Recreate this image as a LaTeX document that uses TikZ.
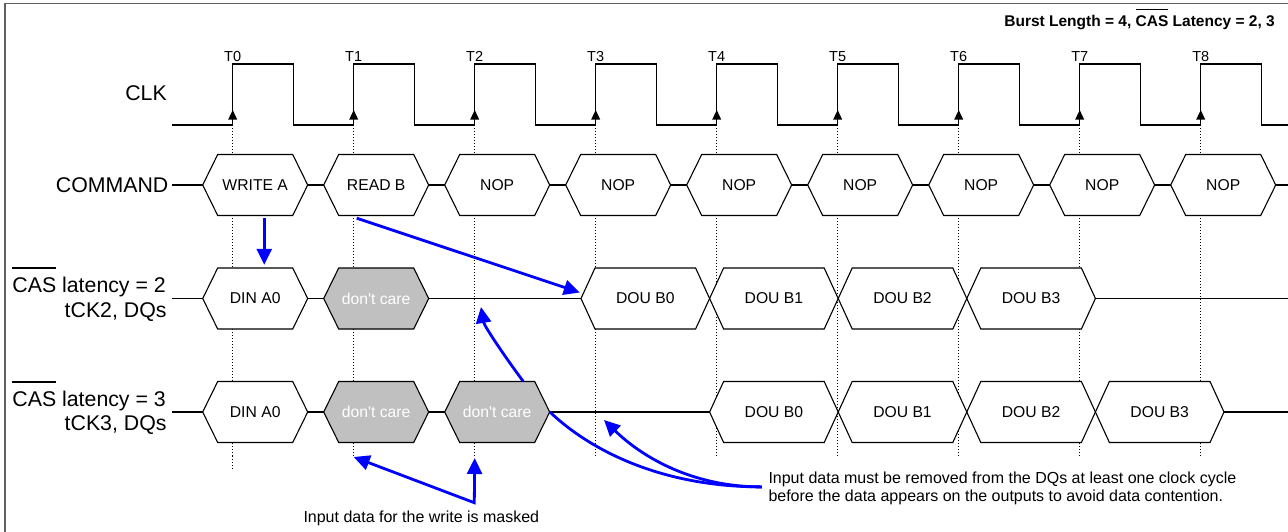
\documentclass[tikz,border=0pt]{standalone}
\usepackage{fontspec}
\setmainfont{Liberation Sans}
\usepackage{xcolor}
\usepackage{tikz}
\usetikzlibrary{arrows.meta}
\usetikzlibrary{calc}
\definecolor{framegray}{RGB}{96,96,96}
\definecolor{dcgray}{RGB}{192,192,192}
\definecolor{arrowblue}{RGB}{0,0,255}
\newcommand{\nsig}[2][1.08em]{\setbox0\hbox{#2}\rlap{\raisebox{#1}{\rule{\wd0}{0.09em}}}\box0\relax}
\newcommand{\hexsig}[8]{%
	\draw[#6] (#2,#5) -- ++(#4,-30.5) -- ++(#3-2*#4,0) -- ++(#4,30.5) -- ++(-#4,30.5) -- ++(-#3+2*#4,0) -- cycle;
	\node[#7,minimum width=#3,minimum height=61] (#1) at ({#2+#3/2},#5) {#8};}

\begin{document}
\begin{tikzpicture}[x=1pt,y=-1pt,
	sig/.style={draw=black,fill=white,line width=1.1pt},
	dcsig/.style={draw=black,fill=dcgray,line width=1.1pt},
	sigtext/.style={inner sep=0pt,font=\fontsize{15.7}{18}\selectfont},
	dctext/.style={sigtext,text=white},
	rowlabel/.style={inner sep=0pt,anchor=base east,font=\fontsize{21.3}{24}\selectfont},
	notetext/.style={inner sep=0pt,font=\fontsize{16}{18.4}\selectfont},
	blueline/.style={draw=arrowblue,line width=2.8pt},
	bluearrow/.style={blueline,-{Triangle[length=16pt,width=15pt]}},
	dotline/.style={draw=black,line width=0.9pt,dash pattern=on 1pt off 2pt}]
	\useasboundingbox (0,0) rectangle (1288,531);
	\clip (0,0) rectangle (1288,531);
	\draw[framegray,line width=1.5pt] (5,3.3) rectangle (1300,545);
	\node[anchor=base east,inner sep=0pt,font=\fontsize{15.5}{18}\selectfont\bfseries] (title) at (1275,26.7) {Burst Length = 4, \nsig{CAS} Latency = 2, 3};

	\foreach \n in {0,...,8}{
		\pgfmathsetmacro\tx{232.7+121*\n}
		\coordinate (t\n) at (\tx,125);
		\coordinate (dend\n) at (\tx,456);
		\draw[dotline] (t\n) -- (dend\n);
	}
	\draw[dotline] (dend0) -- ++(0,14);

	\draw[line width=1.1pt] (172,185) -- (1290,185);
	\draw[line width=1.1pt] (172,298.5) -- (1290,298.5);
	\draw[line width=1.1pt] (172,412) -- (1290,412);

	\foreach \n/\cmd in {0/WRITE A,1/READ B,2/NOP,3/NOP,4/NOP,5/NOP,6/NOP,7/NOP,8/NOP}{
		\pgfmathsetmacro\xl{202.7+121*\n}
		\hexsig{cmd\n}{\xl}{105}{15}{185}{sig}{sigtext}{\cmd}
	}

	\hexsig{dina2}{202.7}{105}{15}{298.5}{sig}{sigtext}{DIN A0}
	\hexsig{dcb1}{323.7}{105}{15}{298.5}{dcsig}{dctext}{don\textquotesingle t care}
	\foreach \k in {0,...,3}{
		\pgfmathsetmacro\xl{581+128.6*\k}
		\hexsig{doua\k}{\xl}{128.6}{14}{298.5}{sig}{sigtext}{DOU B\k}
	}

	\hexsig{dina3}{202.7}{105}{15}{412}{sig}{sigtext}{DIN A0}
	\hexsig{dcc1}{323.7}{105}{15}{412}{dcsig}{dctext}{don\textquotesingle t care}
	\hexsig{dcc2}{444.7}{105}{15}{412}{dcsig}{dctext}{don\textquotesingle t care}
	\foreach \k in {0,...,3}{
		\pgfmathsetmacro\xl{709.6+128.6*\k}
		\hexsig{doub\k}{\xl}{128.6}{14}{412}{sig}{sigtext}{DOU B\k}
	}

	\draw[line width=1.1pt] (172,125) \foreach \n in {0,...,8}{ -- ({232.7+121*\n},125) -- ++(0,-61) -- ++(60.5,0) -- ++(0,61)} -- (1290,125);
	\foreach \n in {0,...,8}{
		\fill ([yshift=15pt]t\n) -- ++(-4.5,9.5) -- ++(9,0) -- cycle;
		\node[anchor=base,inner sep=0pt,font=\fontsize{14.5}{17}\selectfont] (lab\n) at ({232.7+121*\n},61.7) {T\n};
	}

	\node[rowlabel] (clk) at (167,100.7) {CLK};
	\node[rowlabel] (command) at (168.5,192.3) {COMMAND};
	\node[rowlabel] (cas2a) at (166,292.5) {\nsig[1.1em]{CAS} latency = 2};
	\node[rowlabel] (cas2b) at (166.7,317) {tCK2, DQs};
	\node[rowlabel] (cas3a) at (166,406) {\nsig[1.1em]{CAS} latency = 3};
	\node[rowlabel] (cas3b) at (166.7,430.5) {tCK3, DQs};

	\draw[bluearrow] ([xshift=9pt,yshift=-2pt]cmd0.south) -- ([xshift=9pt,yshift=3pt]dina2.north);
	\draw[bluearrow] ([xshift=-19.5pt,yshift=-2.5pt]cmd1.south) -- ([xshift=-1pt,yshift=6pt]doua0.west);
	\coordinate (gap2) at (481,307);
	\draw[bluearrow] ([xshift=26pt]dcc2.north) .. controls +(-23,-31) and +(3,18) .. (gap2);

	\node[notetext,anchor=base west] (masknote) at (303.3,522.7) {Input data for the write is masked};
	\coordinate (maskv) at (474.3,502.7);
	\draw[blueline,{Triangle[length=16pt,width=15pt]}-{Triangle[length=16pt,width=15pt]}] ([yshift=-1pt]dend1) -- (maskv) -- ([yshift=-2pt]dend2);

	\node[notetext,anchor=west,align=left] (ddnote) at (768.3,488.4) {Input data must be removed from the DQs at least one clock cycle\\before the data appears on the outputs to avoid data contention.};
	\coordinate (gap3) at (604,420);
	\draw[blueline] ([xshift=-6.5pt,yshift=1.5pt]ddnote.west) .. controls +(-101,0) and +(40,38) .. (dcc2.east);
	\draw[bluearrow] ([xshift=-6.5pt,yshift=1.5pt]ddnote.west) .. controls +(-72,0) and +(36,35) .. (gap3);
\end{tikzpicture}
\end{document}
